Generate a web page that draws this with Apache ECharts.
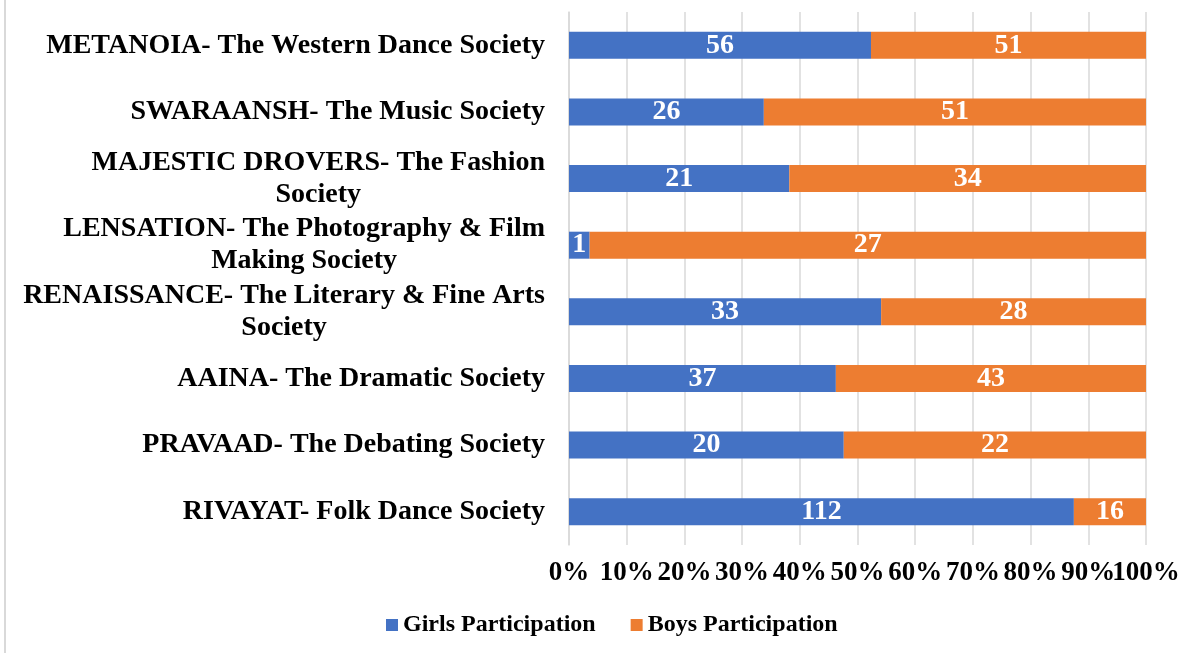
<!DOCTYPE html>
<html><head><meta charset="utf-8">
<script src="https://cdn.jsdelivr.net/npm/echarts@6/dist/echarts.min.js"></script>
<style>html,body{margin:0;padding:0;background:#fff}#c{width:1203px;height:653px}</style>
</head><body><div id="c"></div>
<script>
const categories = [
  "RIVAYAT- Folk Dance Society",
  "PRAVAAD- The Debating Society",
  "AAINA- The Dramatic Society",
  "RENAISSANCE- The Literary & Fine Arts\nSociety",
  "LENSATION- The Photography & Film\nMaking Society",
  "MAJESTIC DROVERS- The Fashion\nSociety",
  "SWARAANSH- The Music Society",
  "METANOIA- The Western Dance Society"
];
const girls = [112, 20, 37, 33, 1, 21, 26, 56];
const boys = [16, 22, 43, 28, 27, 34, 51, 51];
const tickLabels = ["0%","10%","20%","30%","40%","50%","60%","70%","80%","90%","100%"];

const FONT = '"Liberation Serif", "Times New Roman", serif';
const totals = girls.map((g, i) => g + boys[i]);
const girlsPct = girls.map((g, i) => ({ value: g / totals[i] * 100, raw: g }));
const boysPct = boys.map((b, i) => ({ value: b / totals[i] * 100, raw: b }));

const chart = echarts.init(document.getElementById('c'), null, { renderer: 'canvas' });
const labelCfg = {
  show: true, position: 'inside', color: '#fff', fontFamily: FONT,
  fontWeight: 'bold', fontSize: 28, formatter: p => p.data.raw
};
const axisLabelBase = { margin: 15, color: '#000', fontFamily: FONT, fontWeight: 'bold', fontSize: 27, hideOverlap: false };
chart.setOption({
  animation: false,
  textStyle: { fontFamily: FONT },
  graphic: [{ type: 'line', shape: { x1: 5, y1: 0, x2: 5, y2: 653 }, style: { stroke: '#d9d9d9', lineWidth: 2 } }],
  grid: { left: 569, right: 57, top: 12, height: 533 },
  legend: {
    bottom: 11, left: 381, itemWidth: 12, itemHeight: 12, itemGap: 35, icon: 'rect',
    textStyle: { fontFamily: FONT, fontWeight: 'bold', fontSize: 24, color: '#000' },
    data: ['Girls Participation', 'Boys Participation']
  },
  xAxis: [{
    type: 'value', min: 0, max: 100, interval: 10, position: 'bottom',
    axisLine: { show: false }, axisTick: { show: false },
    splitLine: { lineStyle: { color: '#d9d9d9', width: 1.5 } },
    axisLabel: Object.assign({}, axisLabelBase, { showMinLabel: true, showMaxLabel: false,
      formatter: v => (v < 100 ? tickLabels[Math.round(v / 10)] : '') })
  }, {
    type: 'value', min: 0, max: 100, interval: 10, position: 'bottom',
    axisLine: { show: false }, axisTick: { show: false }, splitLine: { show: false },
    axisLabel: Object.assign({}, axisLabelBase, { showMinLabel: false, showMaxLabel: true,
      formatter: v => (v === 100 ? tickLabels[10] : '') })
  }],
  yAxis: {
    type: 'category', data: categories,
    axisLine: { show: true, lineStyle: { color: '#d9d9d9', width: 1.5 } }, axisTick: { show: false },
    axisLabel: {
      margin: 24, color: '#000',
      formatter: v => v.split('\n').map(l => '{c|' + l + '}').join('\n'),
      rich: { c: { align: 'center', fontFamily: FONT, fontWeight: 'bold', fontSize: 28, lineHeight: 32, color: '#000' } }
    }
  },
  series: [
    { name: 'Girls Participation', type: 'bar', stack: 't', barWidth: 27, data: girlsPct,
      itemStyle: { color: '#4472C4' }, label: labelCfg },
    { name: 'Boys Participation', type: 'bar', stack: 't', barWidth: 27, data: boysPct,
      itemStyle: { color: '#ED7D31' }, label: labelCfg }
  ]
});
</script></body></html>
